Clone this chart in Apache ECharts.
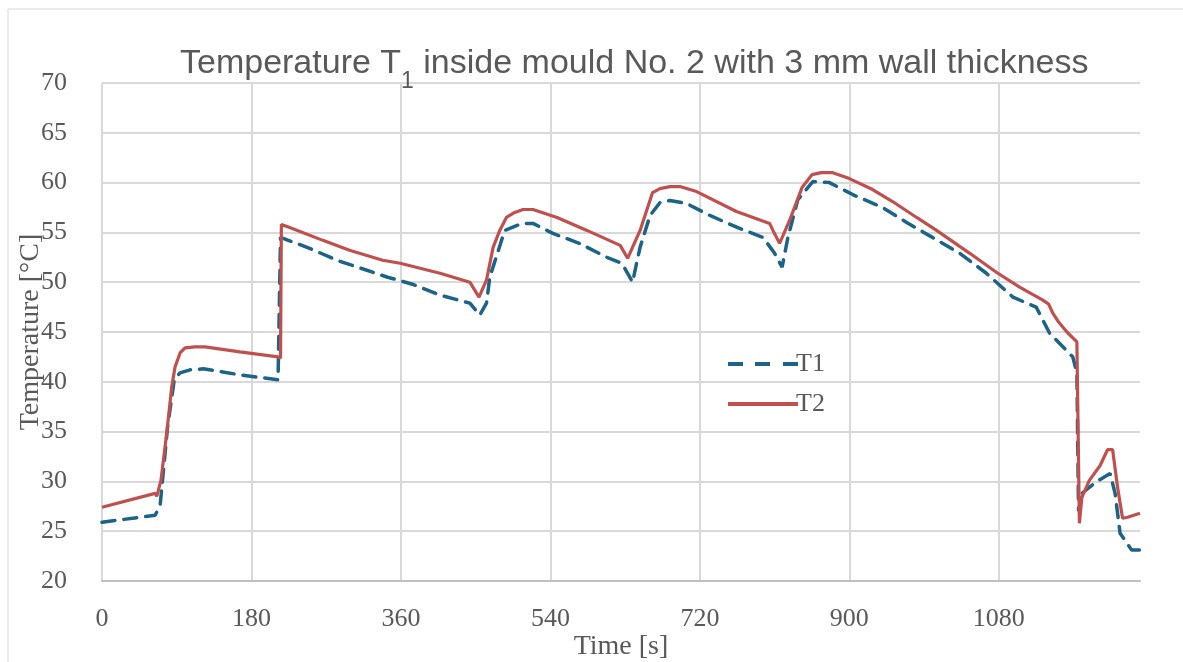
<!DOCTYPE html>
<html>
<head>
<meta charset="utf-8">
<script src="https://cdn.jsdelivr.net/npm/echarts@6/dist/echarts.min.js"></script>
<style>
  html, body { margin: 0; padding: 0; background: #fff; }
  #main { width: 1183px; height: 662px; }
</style>
</head>
<body>
<div id="main"></div>
<script type="text/javascript">
// time [s] and temperature [°C]
var t1Time = [0, 64, 66, 70, 79, 87, 94, 106, 122, 166, 212, 214, 215, 250, 283, 344, 374, 407, 443, 455,
  463, 467, 485, 506, 519, 543, 575, 608, 626, 639, 644, 648, 660, 672, 684, 704, 732, 765, 796, 810,
  819, 826, 838, 856, 876, 904, 940, 969, 1000, 1033, 1065, 1097, 1125, 1141, 1169, 1174, 1176, 1180,
  1198, 1214, 1220, 1226, 1240, 1250];
var t1Temp = [25.9, 26.6, 26.8, 27.6, 35.5, 40.2, 40.9, 41.2, 41.3, 40.7, 40.2, 40.0, 54.5, 53.4, 52.2, 50.5, 49.8, 48.7, 47.9, 46.7,
  47.9, 50.5, 55.2, 55.9, 55.9, 54.9, 53.9, 52.5, 51.9, 50.0, 52.0, 53.5, 56.7, 58.0, 58.2, 57.9, 56.7, 55.5, 54.5, 52.9,
  51.5, 54.5, 58.3, 60.1, 60.0, 58.8, 57.5, 56.0, 54.5, 52.9, 50.9, 48.5, 47.5, 44.9, 42.5, 40.9, 27.0, 28.8,
  30.0, 30.8, 28.8, 24.8, 23.1, 23.1];

var t2Time = [0, 64, 66, 71, 78, 84, 88, 94, 100, 112, 124, 166, 212, 215, 216, 226, 266, 298, 338, 359,
  407, 443, 454, 463, 471, 479, 487, 497, 507, 519, 548, 584, 624, 633, 648, 663, 672, 684, 696, 716,
  764, 804, 808, 816, 828, 843, 855, 866, 880, 900, 928, 952, 981, 1005, 1045, 1077, 1105, 1133, 1140,
  1145, 1152, 1162, 1174, 1176, 1177, 1180, 1189, 1202, 1211, 1217, 1223, 1229, 1235, 1250];
var t2Temp = [27.4, 28.8, 28.5, 30.1, 34.9, 39.5, 41.5, 42.9, 43.4, 43.5, 43.5, 43.0, 42.5, 42.4, 55.8, 55.5, 54.2, 53.2, 52.2, 51.9,
  50.9, 50.0, 48.5, 50.2, 53.5, 55.2, 56.5, 57.0, 57.3, 57.3, 56.5, 55.2, 53.7, 52.4, 55.2, 59.0, 59.4, 59.6, 59.6, 59.1,
  57.1, 55.9, 55.2, 53.9, 56.2, 59.5, 60.8, 61.0, 61.0, 60.4, 59.3, 58.1, 56.5, 55.2, 52.9, 51.0, 49.5, 48.2, 47.8,
  46.9, 46.0, 45.0, 44.0, 43.8, 25.8, 28.4, 30.1, 31.6, 33.2, 33.2, 29.4, 26.3, 26.4, 26.8];

var xTicks = [0, 180, 360, 540, 720, 900, 1080];

function pairs(ts, vs) {
  var out = [];
  for (var i = 0; i < ts.length; i++) out.push([ts[i], vs[i]]);
  return out;
}

var chart = echarts.init(document.getElementById('main'));
var serif = 'Liberation Serif';
var sans = 'Liberation Sans';
var grey = '#595959';
var blue = '#1b6387';
var red = '#c0504d';

chart.setOption({
  animation: false,
  backgroundColor: '#fff',
  graphic: [{
    type: 'rect',
    shape: { x: 8, y: 9, width: 1400, height: 900 },
    style: { fill: 'none', stroke: '#d9d9d9', lineWidth: 1 },
    silent: true
  }],
  title: {
    text: '{a|Temperature T}{s|1}{a| inside mould No. 2 with 3 mm wall thickness}',
    left: 175,
    top: 42,
    textStyle: {
      rich: {
        a: { fontFamily: sans, fontWeight: 'normal', fontSize: 34, color: grey, lineHeight: 40, verticalAlign: 'top' },
        s: { fontFamily: sans, fontWeight: 'normal', fontSize: 23, color: grey, lineHeight: 24, padding: [23, 0, 0, 0], verticalAlign: 'top' }
      }
    }
  },
  legend: {
    orient: 'vertical',
    left: 723,
    top: 346,
    itemWidth: 70,
    itemHeight: 4,
    itemGap: 14,
    textStyle: { fontFamily: serif, fontSize: 26, color: grey, padding: [0, 0, 0, -7] },
    data: [
      { name: 'T1', icon: 'path://M0,0h15v4h-15z M27,0h15v4h-15z M55,0h15v4h-15z', itemStyle: { color: blue } },
      { name: 'T2', icon: 'path://M0,0h70v4h-70z', itemStyle: { color: red } }
    ]
  },
  grid: { left: 102, right: 43, top: 83, bottom: 81, outerBoundsMode: 'none' },
  xAxis: {
    type: 'value',
    min: 0,
    max: 1250,
    interval: 180,
    name: 'Time [s]',
    nameLocation: 'middle',
    nameGap: 52,
    nameMoveOverlap: false,
    nameTextStyle: { fontFamily: serif, fontSize: 28, color: grey },
    axisLine: { show: true, lineStyle: { color: '#bfbfbf', width: 2 } },
    axisTick: { show: false },
    axisLabel: {
      margin: 25,
      fontFamily: serif,
      fontSize: 26,
      color: grey,
      showMaxLabel: false,
      formatter: function (v) { return xTicks.indexOf(v) >= 0 ? String(v) : ''; }
    },
    splitLine: { show: true, showMaxLine: false, lineStyle: { color: '#d9d9d9', width: 2 } }
  },
  yAxis: {
    type: 'value',
    min: 20,
    max: 70,
    interval: 5,
    name: 'Temperature [°C]',
    nameLocation: 'middle',
    nameGap: 57,
    nameMoveOverlap: false,
    nameTextStyle: { fontFamily: serif, fontSize: 28, color: grey },
    axisLine: { show: false },
    axisTick: { show: false },
    axisLabel: { margin: 35, fontFamily: serif, fontSize: 26, color: grey },
    splitLine: { show: true, lineStyle: { color: '#d9d9d9', width: 2 } }
  },
  series: [{
    name: 'T1',
    type: 'line',
    symbol: 'none',
    showSymbol: false,
    data: pairs(t1Time, t1Temp),
    itemStyle: { color: blue },
    lineStyle: { color: blue, width: 3.5, type: [13, 9], cap: 'round' }
  }, {
    name: 'T2',
    type: 'line',
    symbol: 'none',
    showSymbol: false,
    data: pairs(t2Time, t2Temp),
    itemStyle: { color: red },
    lineStyle: { color: red, width: 3.2 }
  }]
});

window.addEventListener('resize', function () { chart.resize(); });
</script>
</body>
</html>
